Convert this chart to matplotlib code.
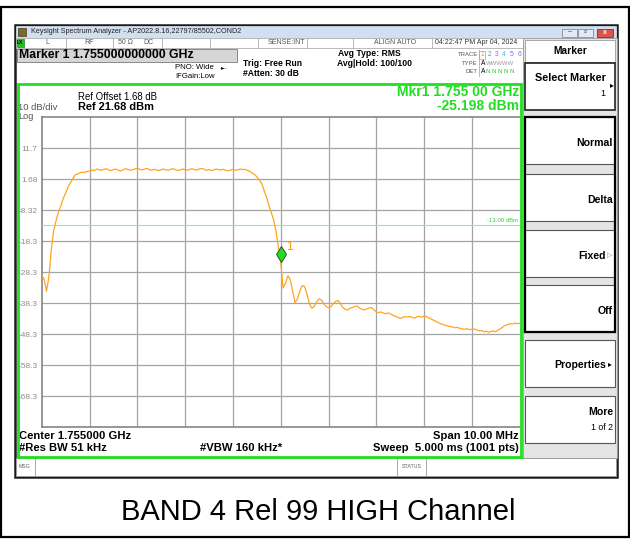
import matplotlib
matplotlib.use("Agg")
import matplotlib.pyplot as plt
import matplotlib.patches as patches
import matplotlib.transforms as mtransforms
import numpy as np

plt.rcParams['font.family'] = ['Liberation Sans', 'DejaVu Sans']

# analyzer settings
center_ghz = 1.755
span_mhz = 10.0
ref_level = 21.68
db_per_div = 10
limit_dbm = -13.0
marker_dbm = -25.198

# averaged trace, one value every 50 kHz across the span (dBm)
trace_dbm = [
    -29.3, -30.6, -34.5, -30.0, -21.2, -15.0, -11.8, -9.0, -7.0, -4.6,
    -2.9, -0.9, 0.4, 1.8, 3.0, 3.3, 3.7, 3.9, 3.8, 4.1,
    4.3, 4.6, 4.4, 4.9, 4.7, 4.5, 4.8, 5.0, 4.6, 4.4,
    4.7, 4.9, 4.5, 4.3, 4.6, 5.0, 4.8, 4.5, 4.7, 4.9,
    5.2, 4.8, 4.6, 4.9, 5.1, 4.7, 4.5, 4.8, 4.6, 4.4,
    4.7, 4.9, 4.6, 4.5, 4.8, 5.0, 4.7, 4.4, 4.6, 4.9,
    4.7, 4.5, 4.8, 5.0, 4.6, 4.7, 4.9, 5.1, 4.8, 4.5,
    4.7, 4.4, 4.6, 4.9, 4.7, 4.6, 4.8, 4.5, 4.3, 4.6,
    4.8, 4.5, 4.6, 4.9, 4.7, 4.8,
    4.5, 4.2, 3.6, 3.2, 2.4, 1.4, 0.3, -1.8, -4.0, -6.8, -9.0, -11.4, -15.0, -20.2,
    -25.198,
    -33.5, -32.0, -29.5, -30.8, -34.5, -38.2, -37.0, -34.5, -32.7, -33.0, -35.5, -38.5, -40.0,
    -39.5, -38.0, -37.0, -37.3, -38.5, -39.5, -39.8, -39.5, -38.5, -37.8, -37.5, -38.5,
    -39.8, -40.3, -40.6, -40.0,
    -39.8, -39.4, -39.3, -40.0, -40.3, -40.6, -40.2, -39.9, -39.8, -40.5,
    -41.2, -41.4, -41.2, -41.6, -41.8, -41.5, -41.9, -42.3, -42.6, -42.9,
    -43.3, -43.0, -42.7, -42.8, -42.7, -42.9, -43.2, -42.8, -42.6, -42.9,
    -42.5, -42.7, -43.2, -43.5, -43.9, -44.3, -44.7, -45.0, -45.3, -45.5,
    -45.8, -45.9, -46.1, -46.3, -46.2, -46.5, -46.7, -46.8, -46.6, -46.9,
    -46.8, -46.7, -47.0, -47.3, -47.2, -47.6, -47.4, -47.8, -47.5, -47.3,
    -47.6, -47.0, -46.6, -46.0, -45.5, -45.3, -45.0, -45.1, -44.8, -45.0, -44.9,
]

ytick_labels = ["11.7", "1.68", "-8.32", "-18.3", "-28.3", "-38.3", "-48.3", "-58.3", "-68.3"]
trace_nums = ["1", "2", "3", "4", "5", "6"]
trace_cols = ["#f0a000", "#00b8c8", "#e040e0", "#30c0f0", "#7070ff", "#a060e0"]
softkeys = ["Normal", "Delta", "Fixed", "Off"]

W, H = 630, 539
fig = plt.figure(figsize=(W / 100, H / 100), dpi=100)

# pixel-space layer for the instrument screen
bg = fig.add_axes([0, 0, 1, 1])
bg.set_xlim(0, W)
bg.set_ylim(H, 0)
bg.axis('off')


def box(x0, y0, x1, y1, fc='white', ec='#9a9a9a', lw=0.8, z=1):
    bg.add_patch(patches.Rectangle((x0, y0), x1 - x0, y1 - y0, facecolor=fc,
                                   edgecolor=ec, linewidth=lw, zorder=z))


def txt(x, y, s, size=6, ha='left', weight='normal', color='black', z=5):
    bg.text(x, y, s, fontsize=size, ha=ha, va='center', fontweight=weight,
            color=color, zorder=z)


# outer page frame and window
box(1, 7, 629, 537, fc='white', ec='black', lw=1.6, z=0)
box(15, 25, 617, 477, fc='white', ec='#1a1a1a', lw=1.8, z=1)

# title bar
box(16, 26, 616, 37.5, fc='#d2dff0', ec='#d2dff0', lw=0.5, z=2)
box(18, 28, 26, 35.5, fc='#7a6a30', ec='#4a3a10', lw=0.5, z=3)
txt(31, 31.7, "Keysight Spectrum Analyzer - AP2022.8.16,22797/85502,COND2", size=5.2, color='#222222')
box(562, 28.5, 577, 36.5, fc='#e2eaf4', ec='#7d8ea5', lw=0.6, z=3)
box(578, 28.5, 593, 36.5, fc='#e2eaf4', ec='#7d8ea5', lw=0.6, z=3)
box(597, 28.5, 613, 36.5, fc='#d9534f', ec='#8b2a25', lw=0.6, z=3)
txt(569.5, 32, "–", size=5, ha='center', color='#333333', z=6)
txt(585.5, 32.5, "▫", size=6, ha='center', color='#333333', z=6)
txt(605, 32.5, "x", size=5, ha='center', weight='bold', color='white', z=6)

# status row
box(16, 37.5, 523, 48, fc='white', ec='#b0b0b0', lw=0.6, z=2)
for xd in [66, 113, 162, 210, 258, 307, 353, 432]:
    bg.plot([xd, xd], [37.5, 48], color='#b0b0b0', lw=0.6, zorder=3)
box(17, 38.5, 23.5, 47, fc='#20c020', ec='#107010', lw=0.4, z=3)
txt(20.2, 42.8, "LX", size=3.5, ha='center', weight='bold', z=6)
txt(45, 42.8, "L", size=5, color='#555555')
txt(84, 42.8, "RF", size=5, color='#555555')
txt(118, 42.8, "50 Ω", size=5, color='#555555')
txt(143, 42.8, "DC", size=5, color='#555555')
txt(305, 42.8, "SENSE:INT", size=5, ha='right', color='#555555')
txt(416, 42.8, "ALIGN AUTO", size=5, ha='right', color='#555555')
txt(435, 42.8, "04:22:47 PM Apr 04, 2024", size=5, color='#333333')

# marker readout row and settings
box(17, 48.5, 237, 61.5, fc='#d6d6d6', ec='#8a8a8a', lw=0.7, z=2)
txt(19, 55.3, "Marker 1 1.755000000000 GHz", size=8.8, weight='bold')
txt(175, 67.5, "PNO: Wide", size=5.6)
txt(220, 67.5, "-▸-", size=4.5)
txt(175, 76, "IFGain:Low", size=5.6)
txt(243, 63.5, "Trig: Free Run", size=6.2, weight='bold')
txt(243, 73.5, "#Atten: 30 dB", size=6.2, weight='bold')
txt(338, 54, "Avg Type: RMS", size=6.2, weight='bold')
txt(337, 64, "Avg|Hold: 100/100", size=6.2, weight='bold')

# trace status block
txt(478, 55, "TRACE", size=4.3, ha='right', color='#555555')
txt(478, 63.5, "TYPE", size=4.3, ha='right', color='#555555')
txt(478, 71.5, "DET", size=4.3, ha='right', color='#555555')
bg.plot([479, 479], [50, 76], color='#b0b0b0', lw=0.6, zorder=3)
for k, (num, col) in enumerate(zip(trace_nums, trace_cols)):
    txt(482 + 7.4 * k, 55, num, size=4.8, ha='center', color=col)
box(479.3, 50.8, 484.7, 59.2, fc='none', ec='#f0a000', lw=0.5, z=4)
txt(480.5, 63.5, "A", size=4.8)
txt(486, 63.5, "WWWWW", size=4.3, color='#9a9a9a')
txt(480.5, 71.5, "A", size=4.8)
txt(486, 71.5, "N N N N N", size=4.3, color='#22cc22')

# soft key panel
box(523, 38, 617, 458, fc='#e4e4e4', ec='#9a9a9a', lw=0.6, z=2)
box(525, 39.5, 615, 62, fc='white', ec='#9a9a9a', lw=0.6, z=3)
txt(570, 51, "Marker", size=7.4, ha='center', weight='bold')
box(525, 63, 615, 110, fc='white', ec='#222222', lw=1.2, z=3)
txt(606, 78, "Select Marker", size=7.8, ha='right', weight='bold')
txt(605, 93, "1", size=6.5, ha='right')
txt(610, 86, "▸", size=5.5)
key_tops = [117, 174, 230, 285]
key_right = [613, 613, 606, 613]
for label, yt, xr in zip(softkeys, key_tops, key_right):
    box(525, yt, 615, yt + 47, fc='white', ec='#555555', lw=0.8, z=3)
    txt(xr, yt + 26, label, size=7.6, ha='right', weight='bold')
txt(607, 255.5, "▷", size=5, color='#888888', z=6)
bg.add_patch(patches.Rectangle((525, 117), 90, 215, facecolor='none', edgecolor='black',
                               linewidth=1.6, zorder=4))
box(525, 340, 615, 387, fc='white', ec='#555555', lw=0.8, z=3)
txt(606, 365, "Properties", size=7.6, ha='right', weight='bold')
txt(608, 364.5, "▸", size=5.5)
box(525, 396, 615, 443, fc='white', ec='#555555', lw=0.8, z=3)
txt(613, 412, "More", size=7.6, ha='right', weight='bold')
txt(613, 428, "1 of 2", size=6.3, ha='right')

# message bar
box(16, 458, 616, 476, fc='white', ec='#9a9a9a', lw=0.7, z=2)
bg.plot([35, 35], [458, 476], color='#9a9a9a', lw=0.6, zorder=3)
bg.plot([397, 397], [458, 476], color='#9a9a9a', lw=0.6, zorder=3)
bg.plot([426, 426], [458, 476], color='#9a9a9a', lw=0.6, zorder=3)
txt(19, 466.5, "MSG", size=3.8, color='#666666')
txt(411.5, 466.5, "STATUS", size=3.8, ha='center', color='#666666')

# graticule header texts
txt(78, 97.5, "Ref Offset 1.68 dB", size=6.9)
txt(78, 107.5, "Ref 21.68 dBm", size=7.9, weight='bold')
txt(18, 107.3, "10 dB/div", size=6.8, color='#555555')
txt(18, 116.5, "Log", size=6.6, color='#555555')
txt(519, 92, "Mkr1 1.755 00 GHz", size=10, ha='right', weight='bold', color='#22dd22')
txt(519, 106, "-25.198 dBm", size=10, ha='right', weight='bold', color='#22dd22')

# footer texts
txt(19, 436, "Center 1.755000 GHz", size=8.1, weight='bold')
txt(19, 448, "#Res BW 51 kHz", size=8.1, weight='bold')
txt(200, 448, "#VBW 160 kHz*", size=8.1, weight='bold')
txt(519, 436, "Span 10.00 MHz", size=8.1, ha='right', weight='bold')
txt(519, 448, "Sweep  5.000 ms (1001 pts)", size=8.1, ha='right', weight='bold')

# caption below the screen
txt(318, 512, "BAND 4 Rel 99 HIGH Channel", size=21, ha='center')

# graticule
left, top, right, bottom = 41.7, 117, 519.7, 427
ax = fig.add_axes([left / W, 1 - bottom / H, (right - left) / W, (bottom - top) / H])
ax.set_facecolor('white')

start_mhz = center_ghz * 1000 - span_mhz / 2
freq_mhz = np.linspace(start_mhz, start_mhz + span_mhz, len(trace_dbm))

ax.plot(freq_mhz, trace_dbm, color='#ffa41f', lw=0.9, zorder=4)
ax.axhline(limit_dbm, color='#8ef08e', lw=0.8, zorder=3)
ax.text(0.996, limit_dbm + 0.6, "-13.00 dBm", transform=ax.get_yaxis_transform(),
        fontsize=4.3, ha='right', va='bottom', color='#33cc33')

ax.set_xlim(start_mhz, start_mhz + span_mhz)
ax.set_ylim(ref_level - 10 * db_per_div, ref_level)
ax.set_xticks(start_mhz + np.arange(1, 10) * span_mhz / 10)
ax.set_xticklabels([])
ax.set_yticks([ref_level - db_per_div * (k + 1) for k in range(len(ytick_labels))])
ax.set_yticklabels(ytick_labels)
ax.tick_params(length=0, labelsize=6, labelcolor='#8c8c8c', pad=3.2)
ax.grid(color='#a4a4a4', lw=0.9)
for side in ['left', 'top', 'bottom']:
    ax.spines[side].set_color('#7a7a7a')
    ax.spines[side].set_linewidth(1.1)
ax.spines['right'].set_visible(False)

# marker 1 diamond sits with its lower tip on the trace
mk_trans = mtransforms.offset_copy(ax.transData, fig=fig, y=8, units='dots')
ax.plot([center_ghz * 1000], [marker_dbm], marker='d', ms=8.1, mfc='#22dd22',
        mec='#2a5a2a', mew=0.7, transform=mk_trans, zorder=6, clip_on=False)
ax.annotate("1", xy=(center_ghz * 1000, marker_dbm), xytext=(3.5, 11), textcoords='offset points',
            fontsize=8.5, color='#f59a00', ha='left', va='center', zorder=6)

# green frame around the graticule area
fig.add_artist(patches.Rectangle((17.5, 84), 503, 373, facecolor='none', edgecolor='#1ee01e',
                                 linewidth=2, transform=bg.transData, zorder=5))

fig.savefig("out.png", dpi=100)
